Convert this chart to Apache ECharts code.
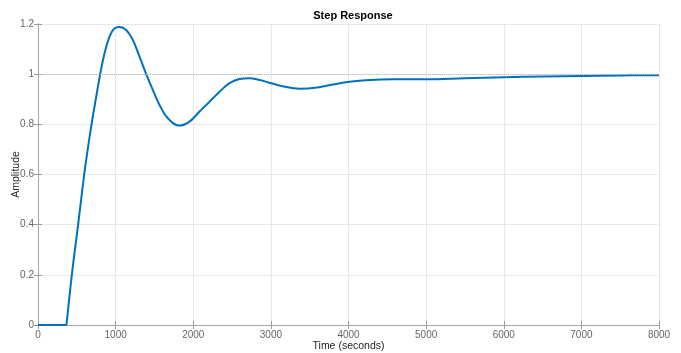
<!DOCTYPE html>
<html>
<head>
<meta charset="utf-8">
<script src="https://cdn.jsdelivr.net/npm/echarts@6/dist/echarts.min.js"></script>
<style>
html,body{margin:0;padding:0;background:#fff;}
#chart{width:681px;height:353px;}
</style>
</head>
<body>
<div id="chart"></div>
<script>
// Dead-time (flat) part of the step response
var delayTime = [0, 367];
var delayAmp = [0, 0];
// Response after the dead time
var timeSec = [367, 436, 517, 595, 650, 700, 750, 801, 857, 921, 986, 1050, 1136, 1222, 1308, 1394, 1479, 1566, 1673, 1823, 1952, 2081, 2210, 2339, 2468, 2597, 2726, 2854, 2961, 3150, 3370, 3600, 3800, 4014, 4272, 4572, 5000, 5500, 6000, 6500, 7000, 7500, 8000];
var amplitude = [0, 0.2, 0.4, 0.6, 0.72, 0.82, 0.91, 1.0, 1.083, 1.15, 1.183, 1.188, 1.176, 1.136, 1.07, 1.0, 0.937, 0.877, 0.824, 0.795, 0.811, 0.851, 0.89, 0.93, 0.964, 0.981, 0.984, 0.977, 0.968, 0.952, 0.942, 0.947, 0.959, 0.97, 0.977, 0.98, 0.98, 0.984, 0.988, 0.991, 0.993, 0.995, 0.996];
var steadyState = 1;
var xTicks = {min: 0, max: 8000, interval: 1000};
var yTicks = {min: 0, max: 1.2, interval: 0.2};

function zip(a, b) { return a.map(function (v, i) { return [v, b[i]]; }); }

var FONT = 'Liberation Sans, Arial, Helvetica, sans-serif';
var chart = echarts.init(document.getElementById('chart'), null, {renderer: 'canvas'});
var tickStyle = {show: true, inside: true, length: 4, lineStyle: {color: '#9a9a9a', width: 1}};
var axisLineStyle = {show: true, lineStyle: {color: '#a6a6a6', width: 1}};
chart.setOption({
  animation: false,
  backgroundColor: '#ffffff',
  title: {
    text: 'Step Response',
    left: 348, textAlign: 'center', top: 5,
    textStyle: {fontFamily: FONT, fontSize: 11, fontWeight: 'bold', color: '#000'}
  },
  grid: {left: 38, right: 22, top: 24, bottom: 28, containLabel: false, outerBoundsMode: 'none'},
  xAxis: [{
    type: 'value', position: 'bottom',
    min: xTicks.min, max: xTicks.max, interval: xTicks.interval,
    name: 'Time (seconds)', nameLocation: 'middle', nameGap: 16, nameMoveOverlap: false,
    nameTextStyle: {fontFamily: FONT, fontSize: 10.5, color: '#262626', verticalAlign: 'top'},
    axisLine: axisLineStyle, axisTick: tickStyle,
    axisLabel: {fontFamily: FONT, fontSize: 10, color: '#666', margin: 5,
      formatter: function (v) { return String(v); }},
    splitLine: {show: true, lineStyle: {color: '#e8e8e8', width: 1}}
  }, {
    type: 'value', position: 'top',
    min: xTicks.min, max: xTicks.max, interval: xTicks.interval,
    axisLine: axisLineStyle, axisTick: tickStyle,
    axisLabel: {show: false}, splitLine: {show: false}
  }],
  yAxis: [{
    type: 'value', position: 'left',
    min: yTicks.min, max: yTicks.max, interval: yTicks.interval,
    name: 'Amplitude', nameLocation: 'middle', nameGap: 16, nameRotate: 90, nameMoveOverlap: false,
    nameTextStyle: {fontFamily: FONT, fontSize: 10.5, color: '#262626'},
    axisLine: axisLineStyle, axisTick: tickStyle,
    axisLabel: {fontFamily: FONT, fontSize: 10, color: '#666', margin: 4,
      formatter: function (v) { return String(+v.toFixed(1)); }},
    splitLine: {show: true, lineStyle: {color: '#e8e8e8', width: 1}}
  }, {
    type: 'value', position: 'right',
    min: yTicks.min, max: yTicks.max, interval: yTicks.interval,
    axisLine: axisLineStyle, axisTick: tickStyle,
    axisLabel: {show: false}, splitLine: {show: false}
  }],
  series: [{
    type: 'line', xAxisIndex: 0, yAxisIndex: 0,
    data: zip(delayTime, delayAmp),
    showSymbol: false, smooth: false,
    lineStyle: {color: '#0072BD', width: 2},
    markLine: {
      silent: true, symbol: 'none', label: {show: false},
      lineStyle: {color: '#b8b8b8', type: 'dotted', width: 1},
      data: [{yAxis: steadyState}]
    },
    z: 3
  }, {
    type: 'line', xAxisIndex: 0, yAxisIndex: 0,
    data: zip(timeSec, amplitude),
    showSymbol: false, smooth: 0.4,
    lineStyle: {color: '#0072BD', width: 2},
    z: 3
  }]
});
</script>
</body>
</html>
